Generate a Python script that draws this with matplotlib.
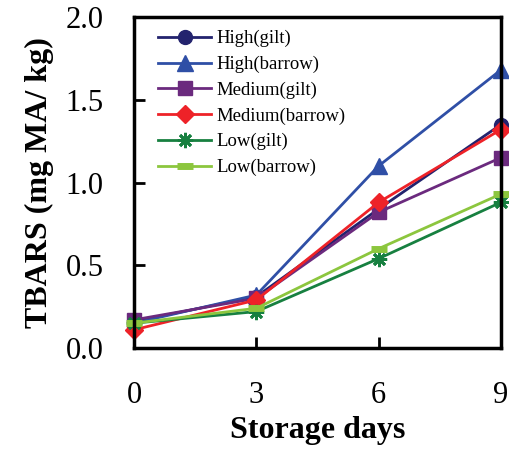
import matplotlib
matplotlib.use('Agg')
import matplotlib.pyplot as plt

plt.rcParams['font.family'] = ['Liberation Serif', 'DejaVu Serif']

days = [0, 3, 6, 9]
high_gilt = [0.16, 0.31, 0.84, 1.35]
high_barrow = [0.15, 0.32, 1.10, 1.68]
medium_gilt = [0.17, 0.30, 0.82, 1.15]
medium_barrow = [0.11, 0.29, 0.88, 1.32]
low_gilt = [0.15, 0.22, 0.54, 0.88]
low_barrow = [0.15, 0.24, 0.60, 0.93]

series = [
    ('High(gilt)', high_gilt, '#23236e', 'o', 10, 1),
    ('High(barrow)', high_barrow, '#2f4fa6', '^', 11, 1),
    ('Medium(gilt)', medium_gilt, '#6b2a7e', 's', 10, 1),
    ('Medium(barrow)', medium_barrow, '#ee2228', 'D', 9, 1),
    ('Low(gilt)', low_gilt, '#178040', (8, 2, 0), 11, 2),
    ('Low(barrow)', low_barrow, '#8cc63e', '_', 12, 5),
]

fig = plt.figure(figsize=(5.10, 4.49), dpi=100)
ax = fig.add_axes([0.263, 0.225, 0.719, 0.737])

for label, vals, color, marker, ms, mew in series:
    ax.plot(days, vals, color=color, marker=marker, markersize=ms,
            markeredgewidth=mew, markeredgecolor=color, markerfacecolor=color,
            linewidth=2, label=label, clip_on=False)

ax.set_xlim(0, 9)
ax.set_ylim(0, 2.0)
ax.set_xticks([0, 3, 6, 9])
ax.set_yticks([0, 0.5, 1.0, 1.5, 2.0])
ax.set_yticklabels(['0.0', '0.5', '1.0', '1.5', '2.0'])
ax.tick_params(axis='both', direction='in', length=8, width=2, labelsize=22)
ax.tick_params(axis='x', pad=24)
ax.tick_params(axis='y', pad=22)
for s in ax.spines.values():
    s.set_linewidth(2.5)

ax.set_xlabel('Storage days', fontsize=23, fontweight='bold', labelpad=4)
ax.set_ylabel('TBARS (mg MA/ kg)', fontsize=23, fontweight='bold', labelpad=8)

ax.legend(loc='upper left', frameon=False, fontsize=13.5, handlelength=2.8,
          labelspacing=0.45, handletextpad=0.3, borderaxespad=0.3,
          bbox_to_anchor=(0.03, 1.0))

fig.savefig('out.png', dpi=100)
